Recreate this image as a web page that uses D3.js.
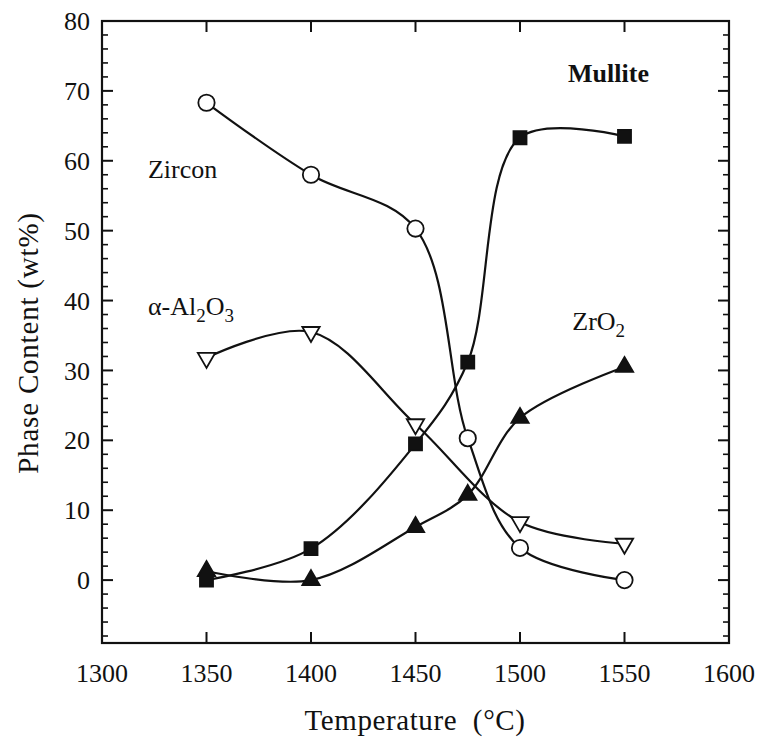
<!DOCTYPE html>
<html>
<head>
<meta charset="utf-8">
<script src="https://cdnjs.cloudflare.com/ajax/libs/d3/7.8.5/d3.min.js"></script>
<style>
  body { margin: 0; background: #fff; }
  text { font-family: "Liberation Serif", "Times New Roman", serif; fill: #111; }
</style>
</head>
<body>
<svg id="chart" width="761" height="741"></svg>
<script>
// Temperatures (°C) for each phase measurement
const temps = [1350, 1400, 1450, 1475, 1500, 1550];
const zircon = [68.3, 58.0, 50.3, 20.3, 4.6, 0.0];
const mullite = [0.0, 4.5, 19.5, 31.2, 63.3, 63.5];
const alumTemps = [1350, 1400, 1450, 1500, 1550];
const alumina = [31.8, 35.5, 22.3, 8.3, 5.2];
const zirconia = [1.3, 0.0, 7.6, 12.2, 23.2, 30.5];

const xTicks = [1300, 1350, 1400, 1450, 1500, 1550, 1600];
const yTicks = [0, 10, 20, 30, 40, 50, 60, 70, 80];

// Plot frame
const margin = { top: 21, right: 32, bottom: 98, left: 102 },
  width = 761 - margin.left - margin.right,
  height = 741 - margin.top - margin.bottom;

const x = d3.scaleLinear().domain([1300, 1600]).range([0, width]);
const y = d3.scaleLinear().domain([-9, 80]).range([height, 0]);

const svg = d3.select("#chart")
  .append("g")
  .attr("transform", "translate(" + margin.left + "," + margin.top + ")");

// Frame
svg.append("rect")
  .attr("width", width).attr("height", height)
  .attr("fill", "none").attr("stroke", "#111").attr("stroke-width", 2.2);

// Y ticks (major every 10, minor every 2) on both sides, pointing in
const minorY = d3.range(-8, 80, 2).filter(function (v) { return v % 10 !== 0; });
[0, width].forEach(function (side) {
  const dir = side === 0 ? 1 : -1;
  svg.selectAll(null).data(yTicks).enter().append("line")
    .attr("x1", side).attr("x2", side + dir * 11)
    .attr("y1", function (d) { return y(d); }).attr("y2", function (d) { return y(d); })
    .attr("stroke", "#111").attr("stroke-width", 2);
  svg.selectAll(null).data(minorY).enter().append("line")
    .attr("x1", side).attr("x2", side + dir * 6)
    .attr("y1", function (d) { return y(d); }).attr("y2", function (d) { return y(d); })
    .attr("stroke", "#111").attr("stroke-width", 1.6);
});

// X ticks on top and bottom, pointing in
const innerX = xTicks.slice(1, -1);
[0, height].forEach(function (side) {
  const dir = side === 0 ? 1 : -1;
  svg.selectAll(null).data(innerX).enter().append("line")
    .attr("y1", side).attr("y2", side + dir * 11)
    .attr("x1", function (d) { return x(d); }).attr("x2", function (d) { return x(d); })
    .attr("stroke", "#111").attr("stroke-width", 2);
});

// Tick labels
svg.selectAll(null).data(yTicks).enter().append("text")
  .attr("x", -12).attr("y", function (d) { return y(d); })
  .attr("dy", "0.35em")
  .attr("text-anchor", "end")
  .style("font-size", "26px")
  .text(function (d) { return d; });

svg.selectAll(null).data(xTicks).enter().append("text")
  .attr("x", function (d) { return x(d); }).attr("y", height + 39)
  .attr("text-anchor", "middle")
  .style("font-size", "26px")
  .text(function (d) { return d; });

// Axis titles
svg.append("text")
  .attr("x", 415 - margin.left).attr("y", height + 87)
  .attr("text-anchor", "middle")
  .style("font-size", "29px")
  .style("letter-spacing", "0.6px")
  .style("white-space", "pre")
  .text("Temperature  (°C)");

svg.append("text")
  .attr("transform", "rotate(-90)")
  .attr("x", -(343 - margin.top)).attr("y", -64)
  .attr("text-anchor", "middle")
  .style("font-size", "29px")
  .style("letter-spacing", "0.8px")
  .text("Phase Content (wt%)");

// Curves
const line = d3.line()
  .x(function (d) { return x(d[0]); })
  .y(function (d) { return y(d[1]); })
  .curve(d3.curveCatmullRom.alpha(0.5));

function series(ts, vs) { return ts.map(function (t, i) { return [t, vs[i]]; }); }

const sets = [
  { pts: series(temps, zircon), shape: "circle" },
  { pts: series(temps, mullite), shape: "square" },
  { pts: series(alumTemps, alumina), shape: "down" },
  { pts: series(temps, zirconia), shape: "up" }
];

sets.forEach(function (s) {
  svg.append("path").datum(s.pts)
    .attr("d", line)
    .attr("fill", "none").attr("stroke", "#111").attr("stroke-width", 2.2);
});

// Markers
const sym = {
  circle: d3.symbol().type(d3.symbolCircle).size(210),
  square: d3.symbol().type(d3.symbolSquare).size(170),
  up: d3.symbol().type(d3.symbolTriangle).size(130),
  down: d3.symbol().type(d3.symbolTriangle).size(130)
};
const filled = { circle: false, square: true, up: true, down: false };

sets.forEach(function (s) {
  svg.selectAll(null).data(s.pts).enter().append("path")
    .attr("d", sym[s.shape])
    .attr("transform", function (d) {
      return "translate(" + x(d[0]) + "," + y(d[1]) + ")" + (s.shape === "down" ? " rotate(180)" : "");
    })
    .attr("fill", filled[s.shape] ? "#111" : "#fff")
    .attr("stroke", "#111").attr("stroke-width", 1.8);
});

// Phase labels
function label(tx, ty, html, bold) {
  svg.append("text").attr("x", x(tx)).attr("y", y(ty))
    .style("font-size", "26px")
    .style("font-weight", bold ? "bold" : "normal")
    .html(html);
}
label(1523, 71.3, "Mullite", true);
label(1322, 57.6, "Zircon");
label(1322, 37.9, "α-Al<tspan dy='7' font-size='19px'>2</tspan><tspan dy='-7'>O</tspan><tspan dy='7' font-size='19px'>3</tspan>");
label(1525, 35.8, "ZrO<tspan dy='7' font-size='19px'>2</tspan>");
</script>
</body>
</html>
